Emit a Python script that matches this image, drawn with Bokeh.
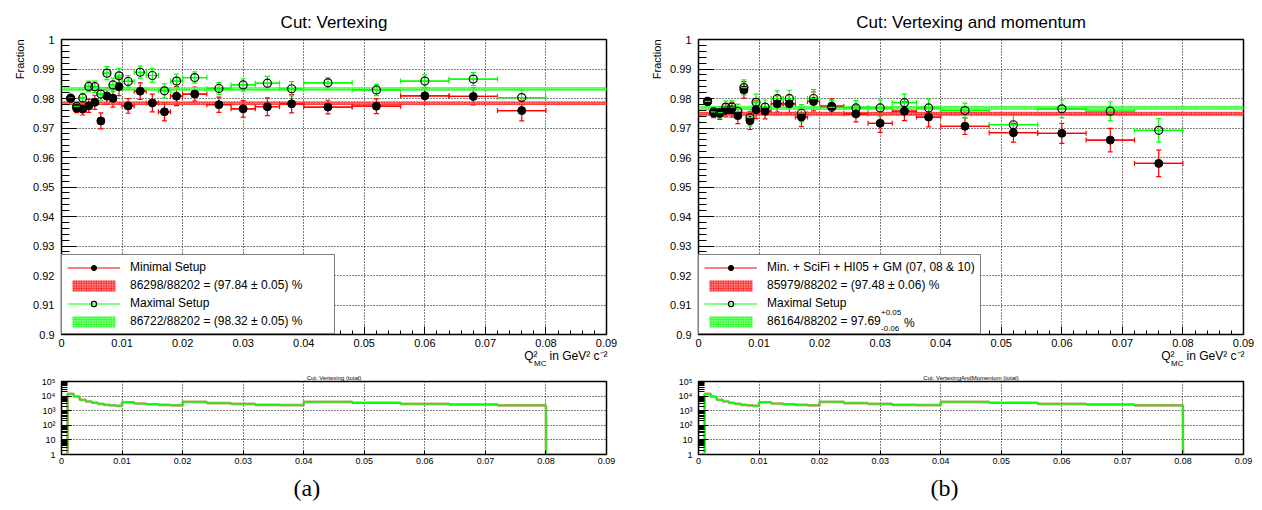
import numpy as np
from bokeh.plotting import figure
from bokeh.layouts import row, column
from bokeh.models import (Legend, LegendItem, FixedTicker, Range1d, Whisker, TeeHead,
                          ColumnDataSource, Title)
from bokeh.embed import file_html
from bokeh.resources import INLINE

FONT = "Liberation Sans"

# Q^2_MC binning in GeV^2 c^-2
q2_edges = [0.0, 0.001, 0.002, 0.003, 0.004, 0.005, 0.006, 0.007, 0.008, 0.009, 0.010,
            0.012, 0.014, 0.016, 0.018, 0.020,
            0.024, 0.028, 0.032, 0.036, 0.040,
            0.048, 0.056, 0.064, 0.072, 0.080, 0.090]

# total number of events per Q^2 bin
total_counts = [0, 14400, 9300, 5600, 4300, 3500, 2950, 2500, 2300, 2150,
                3800, 3100, 2750, 2500, 2300,
                4000, 3300, 2950, 2500, 2400,
                4000, 3500, 2950, 2650, 2300, 0]

n_total = 88202

# cut "Vertexing": per-bin fractions (bins 0.001 .. 0.080)
vtx_min_frac = [0.9801, 0.9767, 0.9764, 0.9775, 0.9787, 0.9724, 0.9808, 0.9801, 0.9840,
                0.9775, 0.9825, 0.9785, 0.9755, 0.9808,
                0.9815, 0.9779, 0.9765, 0.9772, 0.9782,
                0.9771, 0.9774, 0.9809, 0.9807, 0.9759]
vtx_min_err = [0.0012, 0.0015, 0.0020, 0.0022, 0.0024, 0.0027, 0.0028, 0.0030, 0.0030,
               0.0025, 0.0028, 0.0030, 0.0031, 0.0032,
               0.0024, 0.0026, 0.0028, 0.0030, 0.0031,
               0.0023, 0.0025, 0.0027, 0.0029, 0.0035]
vtx_max_frac = [0.9801, 0.9773, 0.9802, 0.9841, 0.9840, 0.9815, 0.9886, 0.9846, 0.9877,
                0.9858, 0.9889, 0.9878, 0.9826, 0.9859,
                0.9871, 0.9834, 0.9846, 0.9852, 0.9833,
                0.9853, 0.9829, 0.9859, 0.9866, 0.9803]
vtx_max_err = [0.0010, 0.0012, 0.0016, 0.0018, 0.0019, 0.0021, 0.0022, 0.0023, 0.0024,
               0.0020, 0.0021, 0.0023, 0.0024, 0.0024,
               0.0019, 0.0020, 0.0021, 0.0023, 0.0024,
               0.0018, 0.0019, 0.0021, 0.0022, 0.0025]

# cut "Vertexing and momentum"
mom_min_frac = [0.9790, 0.9751, 0.9749, 0.9760, 0.9762, 0.9742, 0.9829, 0.9725, 0.9762,
                0.9757, 0.9782, 0.9782, 0.9737, 0.9790,
                0.9774, 0.9748, 0.9716, 0.9757, 0.9737,
                0.9706, 0.9684, 0.9682, 0.9659, 0.9580]
mom_min_err = [0.0012, 0.0016, 0.0020, 0.0022, 0.0025, 0.0027, 0.0028, 0.0030, 0.0030,
               0.0026, 0.0028, 0.0030, 0.0032, 0.0032,
               0.0025, 0.0027, 0.0031, 0.0032, 0.0033,
               0.0028, 0.0032, 0.0034, 0.0040, 0.0045]
mom_max_frac = [0.9790, 0.9755, 0.9752, 0.9771, 0.9771, 0.9756, 0.9837, 0.9735, 0.9787,
                0.9771, 0.9800, 0.9800, 0.9750, 0.9800,
                0.9770, 0.9768, 0.9768, 0.9786, 0.9768,
                0.9759, 0.9711, 0.9765, 0.9757, 0.9692]
mom_max_err = [0.0012, 0.0015, 0.0019, 0.0021, 0.0023, 0.0025, 0.0026, 0.0028, 0.0028,
               0.0024, 0.0026, 0.0028, 0.0029, 0.0030,
               0.0023, 0.0025, 0.0027, 0.0029, 0.0030,
               0.0025, 0.0035, 0.0030, 0.0032, 0.0040]

# integrated numbers: passed events and uncertainty (+, -)
vtx_passed = [86298, 86722]
vtx_band_err = [(0.0005, 0.0005), (0.0005, 0.0005)]
mom_passed = [85979, 86164]
mom_band_err = [(0.0006, 0.0006), (0.0005, 0.0006)]

x_ticks = [0.0, 0.01, 0.02, 0.03, 0.04, 0.05, 0.06, 0.07, 0.08, 0.09]
x_tick_labels = ["0", "0.01", "0.02", "0.03", "0.04", "0.05", "0.06", "0.07", "0.08", "0.09"]
y_ticks = [0.9, 0.91, 0.92, 0.93, 0.94, 0.95, 0.96, 0.97, 0.98, 0.99, 1.0]
y_tick_labels = ["0.9", "0.91", "0.92", "0.93", "0.94", "0.95", "0.96", "0.97", "0.98", "0.99", "1"]
h_ticks = [1, 10, 100, 1000, 10000, 100000]
h_tick_labels = ["1", "10", "10\u00b2", "10\u00b3", "10\u2074", "10\u2075"]

RED = "#ff0000"
GREEN = "#00ff00"

lo_edges = np.array(q2_edges[1:-1])
hi_edges = np.array(q2_edges[2:])
centers = 0.5 * (lo_edges + hi_edges)


def add_title(p, text, place, size, align="center", offset=0, standoff=0, font=FONT):
    p.add_layout(Title(text=text, align=align, offset=offset, standoff=standoff, text_font=font,
                       text_font_size=size, text_font_style="normal", text_color="black"), place)


def style_axes(p, xmaj, xmin_len, ymaj, ymin_len, font_size, y_standoff, x_standoff):
    for ax in (p.xaxis[0], p.yaxis[0]):
        ax.axis_line_color = "black"
        ax.major_tick_line_color = "black"
        ax.minor_tick_line_color = "black"
        ax.major_tick_out = 0
        ax.minor_tick_out = 0
        ax.major_label_text_font = FONT
        ax.major_label_text_font_size = font_size
        ax.major_label_text_color = "black"
    p.xaxis.major_tick_in = xmaj
    p.xaxis.minor_tick_in = xmin_len
    p.yaxis.major_tick_in = ymaj
    p.yaxis.minor_tick_in = ymin_len
    p.yaxis.major_label_standoff = y_standoff
    p.xaxis.major_label_standoff = x_standoff
    p.outline_line_color = "black"
    p.outline_line_width = 1.5
    for g in (p.xgrid[0], p.ygrid[0]):
        g.grid_line_color = "black"
        g.grid_line_dash = "1 2"
        g.grid_line_width = 1


def series(p, frac, err, bar_color, open_marker):
    frac = np.array(frac)
    err = np.array(err)
    src = ColumnDataSource(dict(x=centers, y=frac, ylo=frac - err, yhi=frac + err,
                                xlo=lo_edges, xhi=hi_edges))
    hbar = p.segment(x0="xlo", y0="y", x1="xhi", y1="y", source=src,
                     line_color=bar_color, line_width=1.2)
    for dim, base, lo, hi in (("height", "x", "ylo", "yhi"), ("width", "y", "xlo", "xhi")):
        p.add_layout(Whisker(source=src, dimension=dim, base=base, lower=lo, upper=hi,
                             line_color=bar_color, line_width=1.2,
                             lower_head=TeeHead(size=5, line_color=bar_color, line_width=1.2),
                             upper_head=TeeHead(size=5, line_color=bar_color, line_width=1.2)))
    if open_marker:
        pts = p.scatter("x", "y", source=src, marker="circle", size=8, line_color="black",
                        line_width=1.2, fill_alpha=0)
    else:
        pts = p.scatter("x", "y", source=src, marker="circle", size=8, line_color="black",
                        fill_color="black")
    return hbar, pts


def band(p, eff, e_up, e_dn, color, light):
    return p.quad(left=[q2_edges[0]], right=[q2_edges[-1]], bottom=[eff - e_dn], top=[eff + e_up],
                  fill_color=light, fill_alpha=0.8, hatch_pattern="criss_cross",
                  hatch_color=color, hatch_scale=2.5, hatch_weight=0.7, hatch_alpha=0.7,
                  line_color=color, line_alpha=0.6, line_width=0.6)


def text_only_legend(p, blank, text, size, height, loc):
    # a borderless legend used as a free-standing piece of legend text
    p.add_layout(Legend(items=[LegendItem(label=text, renderers=[blank])], location=loc,
                        margin=0, padding=0, spacing=0, glyph_width=0, glyph_height=height,
                        label_height=height, label_width=10, label_standoff=0,
                        label_text_font=FONT, label_text_font_size=size,
                        label_text_color="black", border_line_alpha=0,
                        background_fill_alpha=0))


def main_panel(title, min_frac, min_err, max_frac, max_err, passed, band_err,
               labels, right_border, scripts=None):
    p = figure(frame_width=545, frame_height=295, min_border_left=61, min_border_right=right_border,
               min_border_top=39, min_border_bottom=35, x_range=Range1d(0, 0.09),
               y_range=Range1d(0.9, 1.0), output_backend="svg", toolbar_location=None)
    p.xaxis.ticker = FixedTicker(ticks=x_ticks, minor_ticks=list(np.round(np.arange(0, 0.0901, 0.002), 4)))
    p.yaxis.ticker = FixedTicker(ticks=y_ticks, minor_ticks=list(np.round(np.arange(0.9, 1.0001, 0.002), 4)))
    p.xaxis.major_label_overrides = dict(zip(x_ticks, x_tick_labels))
    p.yaxis.major_label_overrides = dict(zip(y_ticks, y_tick_labels))
    style_axes(p, 8, 4, 15, 8, "11px", 7, 4)

    eff_min = passed[0] / n_total
    eff_max = passed[1] / n_total
    b_min = band(p, eff_min, band_err[0][0], band_err[0][1], RED, "#ff9090")
    b_max = band(p, eff_max, band_err[1][0], band_err[1][1], GREEN, "#90ff90")

    h_min, pt_min = series(p, min_frac, min_err, RED, False)
    h_max, pt_max = series(p, max_frac, max_err, GREEN, True)

    items = [LegendItem(label=labels[0], renderers=[h_min, pt_min]),
             LegendItem(label=labels[1], renderers=[b_min]),
             LegendItem(label=labels[2], renderers=[h_max, pt_max]),
             LegendItem(label=labels[3], renderers=[b_max])]
    leg = Legend(items=items, location="bottom_left", margin=0, padding=5, spacing=4,
                 glyph_width=53, glyph_height=13, label_height=13, label_width=199,
                 label_standoff=10, label_text_font=FONT, label_text_font_size="12px",
                 label_text_color="black",
                 border_line_color="black", border_line_width=1.5, background_fill_alpha=1)
    p.add_layout(leg)

    # asymmetric uncertainty written after the last legend entry
    if scripts:
        sup, sub, tail, dx = scripts
        blank = p.scatter(x=[], y=[], size=0, alpha=0)
        text_only_legend(p, blank, sup, "8px", 8, (dx, 17.5))
        text_only_legend(p, blank, sub, "8px", 8, (dx, 1.5))
        text_only_legend(p, blank, tail, "12px", 13, (dx + 23, 4))

    # title, y-axis title, x-axis title
    add_title(p, title, "above", "17px", standoff=15)
    add_title(p, "Fraction", "left", "11px", align="right", standoff=10)
    add_title(p, "Q\u00b2\u2002\u2002in GeV\u00b2 c\u207b\u00b2", "below", "12px", align="right",
              offset=-1, standoff=-6)
    add_title(p, "MC", "below", "8px", align="right", offset=60, standoff=-16)
    return p


def hist_panel(title, tag, right_border):
    p = figure(frame_width=545, frame_height=73, min_border_left=61, min_border_right=right_border,
               min_border_top=12, min_border_bottom=56, x_range=Range1d(0, 0.09),
               y_range=Range1d(1, 1e5), y_axis_type="log", output_backend="svg",
               toolbar_location=None)
    p.xaxis.ticker = FixedTicker(ticks=x_ticks, minor_ticks=[])
    minor = [m * 10 ** d for d in range(0, 5) for m in range(2, 10)]
    p.yaxis.ticker = FixedTicker(ticks=h_ticks, minor_ticks=minor)
    p.xaxis.major_label_overrides = dict(zip(x_ticks, x_tick_labels))
    p.yaxis.major_label_overrides = dict(zip(h_ticks, h_tick_labels))
    style_axes(p, 4, 2, 10, 6, "9px", 6, 3)

    shown = [max(c, 1) for c in total_counts]
    ys = shown + [shown[-1]]
    p.step(q2_edges, ys, mode="after", line_color="#a8a860", line_width=2.6)
    p.step(q2_edges, ys, mode="after", line_color=GREEN, line_width=1.3)

    add_title(p, title, "above", "6px", standoff=2)
    add_title(p, tag, "below", "24px", align="left", offset=232, standoff=12,
              font="Liberation Serif")
    return p


labels_a = ["Minimal Setup",
            "86298/88202 = (97.84 \u00b1 0.05) %",
            "Maximal Setup",
            "86722/88202 = (98.32 \u00b1 0.05) %"]
labels_b = ["Min. + SciFi + HI05 + GM (07, 08 & 10)",
            "85979/88202 = (97.48 \u00b1 0.06) %",
            "Maximal Setup",
            "86164/88202 = 97.69"]

top_a = main_panel("Cut: Vertexing", vtx_min_frac, vtx_min_err, vtx_max_frac, vtx_max_err,
                   vtx_passed, vtx_band_err, labels_a, 31)
top_b = main_panel("Cut: Vertexing and momentum", mom_min_frac, mom_min_err, mom_max_frac,
                   mom_max_err, mom_passed, mom_band_err, labels_b, 19,
                   scripts=("+0.05", "-0.06", "%", 183))
bot_a = hist_panel("Cut: Vertexing (total)", "(a)", 31)
bot_b = hist_panel("Cut: VertexingAndMomentum (total)", "(b)", 19)

layout = row(column(top_a, bot_a, spacing=0), column(top_b, bot_b, spacing=0), spacing=0)

open("out.html", "w").write(file_html(layout, INLINE))
